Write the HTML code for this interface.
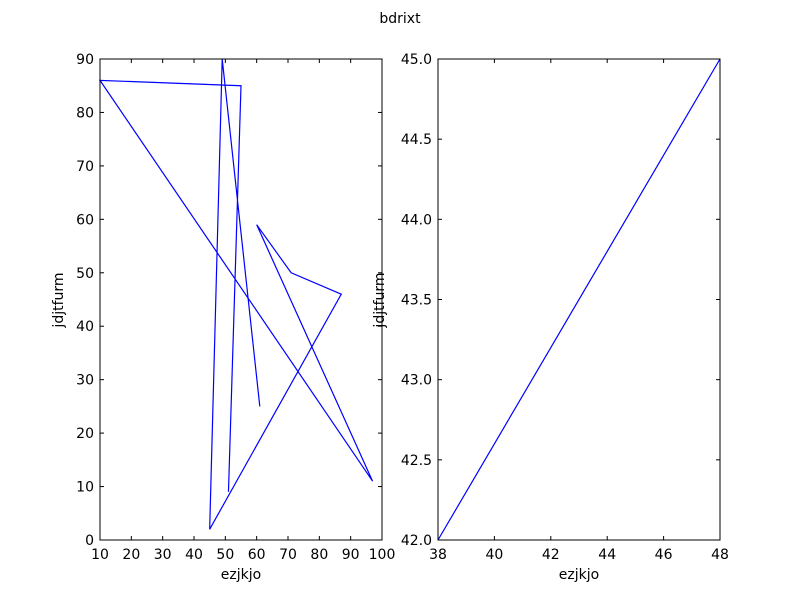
<!DOCTYPE html>
<html><head><meta charset="utf-8"><style>
body{margin:0;background:#fff}
svg text{font-family:"DejaVu Sans","Liberation Sans",sans-serif;font-size:14px;fill:#000}
</style></head><body>
<svg id="c" width="800" height="600">
<text x="400" y="23" text-anchor="middle">bdrixt</text>
</svg>
<script>
const leftX=[61,49,45,87,71,60,97,10,55,51];
const leftY=[25,90,2,46,50,59,11,86,85,9];
const leftXTicks=[10,20,30,40,50,60,70,80,90,100];
const leftYTicks=[0,10,20,30,40,50,60,70,80,90];
const rightX=[38,48];
const rightY=[42,45];
const rightXTicks=[38,40,42,44,46,48];
const rightYTicks=["42.0","42.5","43.0","43.5","44.0","44.5","45.0"];
const svg=document.getElementById('c');const NS='http://www.w3.org/2000/svg';
function mk(t,a,p){const e=document.createElementNS(NS,t);for(const k in a)e.setAttribute(k,a[k]);(p||svg).appendChild(e);return e;}
function panel(name,L,R,T,B,x0,x1,y0,y1,xs,ys,xt,yt){
 const g=mk('g',{});
 
 
 const sx=v=>L+(v-x0)/(x1-x0)*(R-L), sy=v=>B-(v-y0)/(y1-y0)*(B-T);
 const pts=xs.map((x,i)=>sx(x)+','+sy(ys[i])).join(' ');
 const pl=mk('polyline',{points:pts,fill:'none',stroke:'#0000ff','stroke-width':1.2},g);
 
 
 xt.forEach(t=>{const v=+t,x=sx(v);
  mk('line',{x1:x,x2:x,y1:B,y2:B-4,stroke:'#000'},g);mk('line',{x1:x,x2:x,y1:T,y2:T+4,stroke:'#000'},g);
  const tx=mk('text',{x:x,y:B+19,'text-anchor':'middle'},g);tx.textContent=t;
  
  });
 yt.forEach(t=>{const v=+t,y=sy(v);
  mk('line',{x1:L,x2:L+4,y1:y,y2:y,stroke:'#000'},g);mk('line',{x1:R,x2:R-4,y1:y,y2:y,stroke:'#000'},g);
  const tx=mk('text',{x:L-6,y:y+5,'text-anchor':'end'},g);tx.textContent=t;
  
  });
 const fr=mk('rect',{x:L,y:T,width:R-L,height:B-T,fill:'none',stroke:'#000'},g);
 
 
 const xl=mk('text',{x:(L+R)/2,y:B+39,'text-anchor':'middle'},g);xl.textContent='ezjkjo';
 
 
}
panel('left-panel',100,382,59,540,10,100,0,90,leftX,leftY,leftXTicks,leftYTicks);
panel('right-panel',438,720,59,540,38,48,42,45,rightX,rightY,rightXTicks,rightYTicks);
[[63,'left-y-axis-title'],[384,'right-y-axis-title']].forEach(([x,n])=>{
 const t=mk('text',{x:x,y:300,'text-anchor':'middle',transform:`rotate(-90 ${x} 300)`});t.textContent='jdjtfurm';
 
 });
</script>
</body></html>
